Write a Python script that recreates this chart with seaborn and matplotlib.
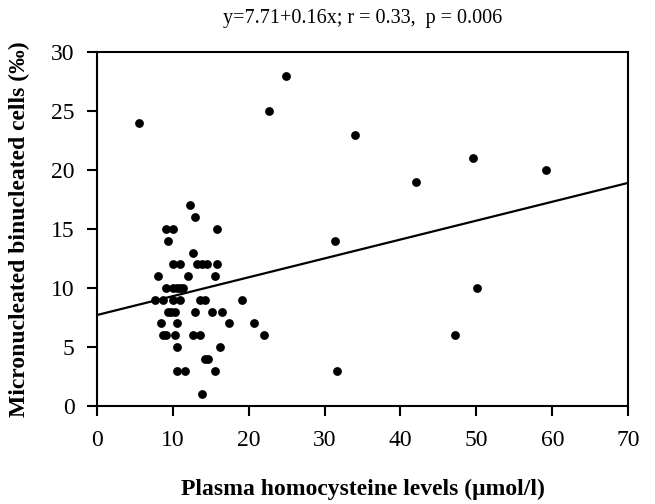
import numpy as np
import pandas as pd
import seaborn as sns
import matplotlib.pyplot as plt

# Plasma homocysteine (umol/l) vs micronucleated binucleated cells (per mille)
homocysteine = [5.5, 24.9, 22.7, 34.0, 42.0, 49.5, 59.2, 31.4, 50.1, 47.2, 31.7,
                12.3, 12.9, 9.05, 10.0, 15.8, 9.4, 12.6,
                10.0, 10.9, 13.2, 13.9, 14.5, 15.8,
                8.1, 12.0, 15.5,
                9.05, 10.0, 10.6, 10.9, 11.3,
                7.7, 8.7, 10.0, 10.9, 13.6, 14.2, 19.1,
                9.4, 9.7, 10.3, 12.9, 15.2, 16.5,
                8.4, 10.6, 17.4, 20.7,
                8.7, 9.05, 10.3, 12.6, 13.6, 22.0,
                10.6, 16.2, 14.2, 14.7,
                10.6, 11.6, 15.5, 13.9]
mn_cells = [24, 28, 25, 23, 19, 21, 20, 14, 10, 6, 3,
            17, 16, 15, 15, 15, 14, 13,
            12, 12, 12, 12, 12, 12,
            11, 11, 11,
            10, 10, 10, 10, 10,
            9, 9, 9, 9, 9, 9, 9,
            8, 8, 8, 8, 8, 8,
            7, 7, 7, 7,
            6, 6, 6, 6, 6, 6,
            5, 5, 4, 4,
            3, 3, 3, 1]

intercept = 7.71
slope = 0.16
x_ticks = [0, 10, 20, 30, 40, 50, 60, 70]
y_ticks = [0, 5, 10, 15, 20, 25, 30]

df = pd.DataFrame({'hcy': homocysteine, 'mn': mn_cells})

sns.set_style("ticks")
plt.rcParams['font.family'] = ['Liberation Serif', 'DejaVu Serif']
plt.rcParams['text.color'] = 'black'
plt.rcParams['axes.labelcolor'] = 'black'
plt.rcParams['axes.edgecolor'] = 'black'

fig = plt.figure(figsize=(6.55, 5.04), dpi=100)
ax = fig.add_axes([0.148, 0.1944, 0.811, 0.7024])

sns.scatterplot(x='hcy', y='mn', data=df, ax=ax, color='black', s=40,
                edgecolor='black', linewidth=0, zorder=3)

# regression line from the reported coefficients
line_x = np.array([0, 70])
ax.plot(line_x, intercept + slope * line_x, color='black', lw=1.6)

ax.set_xlim(0, 70)
ax.set_ylim(0, 30)
ax.set_xticks(x_ticks)
ax.set_yticks(y_ticks)
for side in ['top', 'right', 'left', 'bottom']:
    ax.spines[side].set_visible(True)
    ax.spines[side].set_linewidth(1.5)
ax.tick_params(axis='both', direction='out', length=7, width=1.5,
               labelsize=17, colors='black')
ax.tick_params(axis='x', pad=10)
ax.tick_params(axis='y', pad=9)

ax.set_title("y=7.71+0.16x; r = 0.33,  p = 0.006", fontsize=14.5, pad=21,
             color='black')
ax.set_xlabel("Plasma homocysteine levels (μmol/l)", fontsize=17,
              fontweight='bold', labelpad=20)
ax.set_ylabel("Micronucleated binucleated cells (‰)", fontsize=17,
              fontweight='bold', labelpad=15)

fig.savefig('out.png', dpi=100)
